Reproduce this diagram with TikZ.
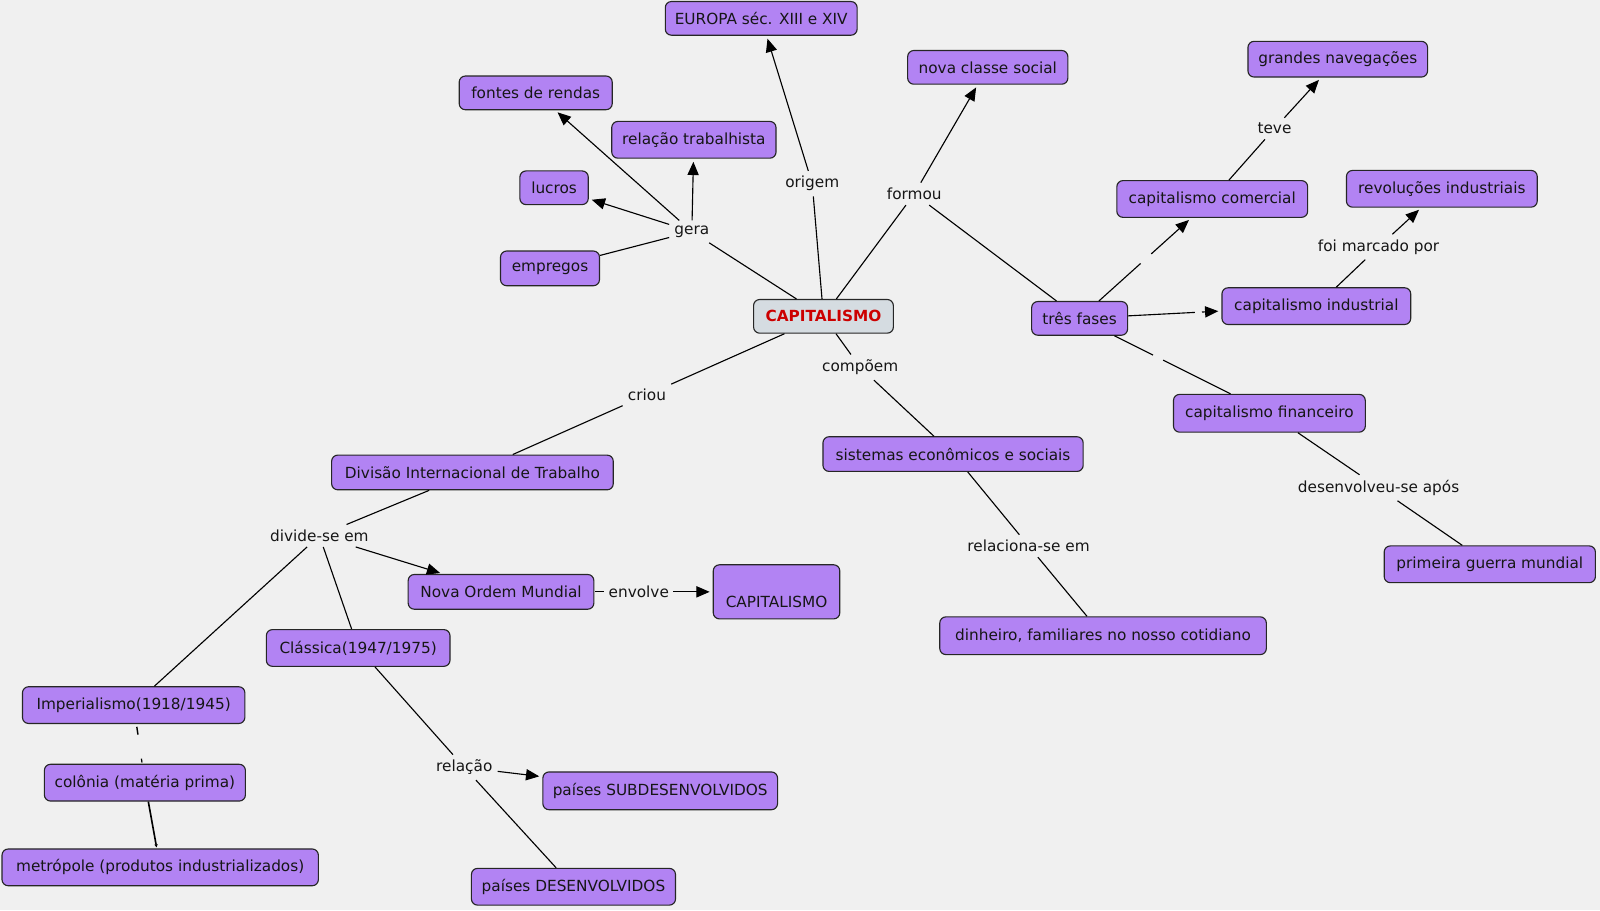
\documentclass[tikz,border=0pt]{standalone}
\usepackage{fontspec}
\setmainfont{DejaVu Sans}
\usetikzlibrary{arrows.meta,calc}
\definecolor{bgc}{RGB}{240,240,240}
\definecolor{boxp}{RGB}{178,131,243}
\definecolor{capfill}{RGB}{213,220,225}
\definecolor{capred}{RGB}{204,0,0}
\definecolor{txt}{RGB}{22,22,22}
\tikzset{
  cbox/.style={draw=black!85, line width=1.1pt, fill=boxp, rounded corners=6pt,
    minimum height=34pt, inner xsep=6pt, inner ysep=2pt, text=txt,
    font=\fontsize{15}{17}\selectfont},
  lbl/.style={inner sep=5pt, text=txt, font=\fontsize{15}{17}\selectfont},
  ln/.style={line width=1.1pt, black},
  arr/.style={line width=1.1pt, black, -{Triangle[length=13pt,width=11pt]}, shorten >=3pt},
}
\begin{document}
\begin{tikzpicture}[x=1pt,y=-1pt]
\fill[bgc] (0,0) rectangle (1568,892);
\useasboundingbox (0,0) rectangle (1568,892);

% concept nodes
\node[cbox, minimum width=188pt, minimum height=33pt] (eur) at (746,18) {EUROPA séc. XIII e XIV};
\node[cbox, minimum width=157pt, minimum height=33pt] (nova) at (968,66) {nova classe social};
\node[cbox, minimum width=150pt, minimum height=33pt] (fontes) at (525,91) {fontes de rendas};
\node[cbox, minimum width=161pt, minimum height=36pt] (relt) at (680,137) {relação trabalhista};
\node[cbox, minimum width=67pt, minimum height=33pt] (lucros) at (543,184) {lucros};
\node[cbox, minimum width=97pt] (empregos) at (539,263) {empregos};
\node[cbox, fill=capfill, minimum width=137pt, minimum height=33pt, text=capred, font=\fontsize{15}{17}\selectfont\bfseries] (cap) at (807,310) {CAPITALISMO};
\node[cbox, minimum width=176pt, minimum height=35pt] (grandes) at (1311,58) {grandes navegações};
\node[cbox, minimum width=187pt, minimum height=36pt] (comercial) at (1188,195) {capitalismo comercial};
\node[cbox, minimum width=187pt, minimum height=36pt] (revol) at (1413,185) {revoluções industriais};
\node[cbox, minimum width=185pt, minimum height=36pt] (industrial) at (1290,300) {capitalismo industrial};
\node[cbox, minimum width=94pt, minimum height=33pt] (tres) at (1058,312) {três fases};
\node[cbox, minimum width=188pt, minimum height=37pt] (financeiro) at (1244,405) {capitalismo financeiro};
\node[cbox, minimum width=207pt, minimum height=36pt] (primeira) at (1460,553) {primeira guerra mundial};
\node[cbox, minimum width=255pt] (sistemas) at (934,445) {sistemas econômicos e sociais};
\node[cbox, minimum width=320pt, minimum height=37pt] (dinheiro) at (1081,623) {dinheiro, familiares no nosso cotidiano};
\node[cbox, minimum width=276pt] (divisao) at (463,463) {Divisão Internacional de Trabalho};
\node[cbox, minimum width=182pt] (nom) at (491,580) {Nova Ordem Mundial};
\node[cbox, minimum width=124pt, minimum height=53pt] (cap2) at (761,580) {\raisebox{-10pt}[\height][\depth]{CAPITALISMO}};
\node[cbox, minimum width=180pt, minimum height=36pt] (classica) at (351,635) {Clássica(1947/1975)};
\node[cbox, minimum width=218pt, minimum height=36pt] (imper) at (131,691) {Imperialismo(1918/1945)};
\node[cbox, minimum width=197pt, minimum height=36pt] (colonia) at (142,767) {colônia (matéria prima)};
\node[cbox, minimum width=310pt, minimum height=36pt] (metropole) at (157,850) {metrópole (produtos industrializados)};
\node[cbox, minimum width=230pt, minimum height=37pt] (subdes) at (647,775) {países SUBDESENVOLVIDOS};
\node[cbox, minimum width=200pt, minimum height=36pt] (desenv) at (562,869) {países DESENVOLVIDOS};

% linking phrases
\node[lbl] (origem) at (796,180) {origem};
\node[lbl] (formou) at (896,190) {formou};
\node[lbl] (gera) at (678,227) {gera};
\node[lbl] (teve) at (1249,126) {teve};
\node[lbl] (foimarc) at (1351,242) {foi marcado por};
\node[lbl] (criou) at (634,387) {criou};
\node[lbl] (compoem) at (843,360) {compõem};
\node[lbl] (desap) at (1351,478) {desenvolveu-se após};
\node[lbl] (relac) at (1008,535) {relaciona-se em};
\node[lbl] (divide) at (313,525) {divide-se em};
\node[lbl, inner xsep=4pt] (envolve) at (626,580) {envolve};
\node[lbl] (relacao) at (455,752) {relação};

% gap coordinates on unlabeled links
\coordinate (tc1) at ($(tres)!0.46!(comercial)$);
\coordinate (tc2) at ($(tres)!0.54!(comercial)$);
\coordinate (ti1) at ($(tres)!0.487!(industrial)$);
\coordinate (ti2) at ($(tres)!0.517!(industrial)$);
\coordinate (tf1) at ($(tres)!0.387!(financeiro)$);
\coordinate (tf2) at ($(tres)!0.44!(financeiro)$);
\coordinate (ci1) at ($(colonia)!0.62!(imper)$);
\coordinate (ci2) at ($(colonia)!0.72!(imper)$);
\coordinate (ci3) at ($(colonia)!0.26!(imper)$);
\coordinate (ci4) at ($(colonia)!0.31!(imper)$);

% connectors
\draw[ln] (cap) -- (origem);
\draw[arr] (origem) -- (eur);
\draw[ln] (cap) -- (formou);
\draw[arr] (formou) -- (nova);
\draw[ln] (formou) -- (tres);
\draw[ln] (cap) -- (gera);
\draw[arr] (gera) -- (fontes);
\draw[arr] (gera) -- (relt);
\draw[arr] (gera) -- (lucros);
\draw[ln] (gera) -- (empregos);

\draw[ln] (tres) -- (tc1);
\draw[arr] (tc2) -- (comercial);
\draw[ln] (tres) -- (ti1);
\draw[arr] (ti2) -- (industrial);
\draw[ln] (tres) -- (tf1);
\draw[ln] (tf2) -- (financeiro);

\draw[ln] (comercial) -- (teve);
\draw[arr] (teve) -- (grandes);
\draw[ln] (industrial) -- (foimarc);
\draw[arr] (foimarc) -- (revol);
\draw[ln] (financeiro) -- (desap);
\draw[ln] (desap) -- (primeira);

\draw[ln] (cap) -- (compoem);
\draw[ln] (compoem) -- (sistemas);
\draw[ln] (sistemas) -- (relac);
\draw[ln] (relac) -- (dinheiro);

\draw[ln] (cap) -- (criou);
\draw[ln] (criou) -- (divisao);
\draw[ln] (divisao) -- (divide);
\draw[arr] (divide) -- (nom);
\draw[ln] (divide) -- (classica);
\draw[ln] (divide) -- (imper);
\draw[ln, shorten <=1pt] (nom) -- (envolve);
\draw[arr] (envolve) -- (cap2);
\draw[ln] (classica) -- (relacao);
\draw[arr] (relacao) -- (subdes);
\draw[ln] (relacao) -- (desenv);

\draw[line width=1.4pt] (ci1) -- (ci2);
\draw[line width=1.2pt] (ci3) -- (ci4);
\draw[line width=1.6pt, -{Triangle[length=3pt,width=3pt]}, shorten >=1pt] (colonia) -- (metropole);
\end{tikzpicture}
\end{document}
